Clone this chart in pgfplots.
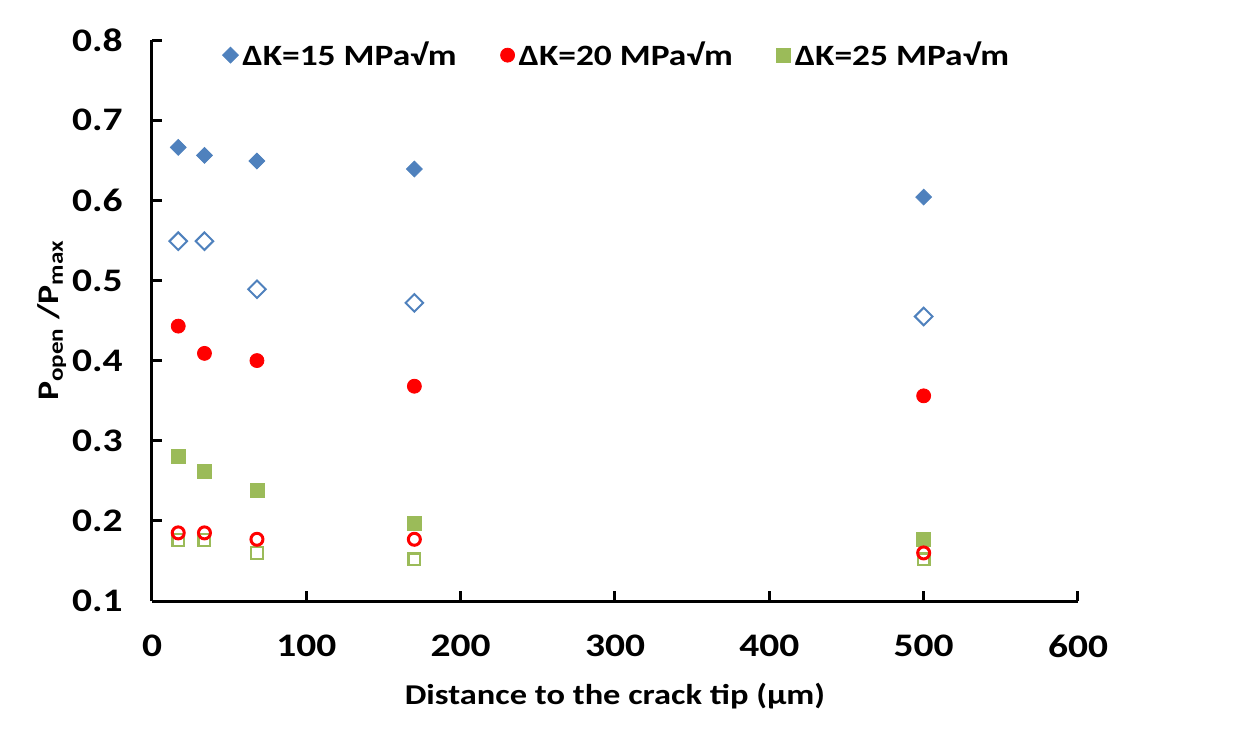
\documentclass[border=0pt]{standalone}
\usepackage{pgfplots}
\pgfplotsset{compat=1.18}
\usepackage{fontspec}
\setmainfont{Carlito}[FakeStretch=1.2]
\definecolor{cblue}{HTML}{4F81BD}
\definecolor{cred}{HTML}{FF0000}
\definecolor{cgreen}{HTML}{9BBB59}
\begin{document}
\begin{tikzpicture}
\path[use as bounding box] (-76bp,-69.5bp) rectangle (545bp,300.5bp);
\begin{axis}[
  scale only axis,
  width=463bp, height=280.5bp,
  xmin=0, xmax=600, ymin=0.1, ymax=0.8,
  xtick={0,100,...,600},
  ytick={0.1,0.2,...,0.8},
  axis x line=bottom, axis y line=left,
  axis line style={-, line width=1.5bp, black},
  tick style={line width=1.5bp, black},
  major tick length=5bp,
  tick align=inside,
  /pgf/number format/assume math mode=true,
  yticklabel style={/pgf/number format/fixed, /pgf/number format/fixed zerofill, /pgf/number format/precision=1},
  tick label style={font=\fontsize{16.5}{19}\selectfont\bfseries, inner sep=0pt},
  xticklabel style={anchor=center, yshift=-22.5bp},
  yticklabel style={anchor=east, xshift=-14.5bp},
  xlabel={Distance to the crack tip (µm)},
  ylabel={P\textsubscript{open} /P\textsubscript{max}},
  xlabel style={font=\fontsize{14.4}{17}\selectfont\bfseries, at={(axis description cs:0.5,-0.169)}, anchor=center},
  ylabel style={font=\fontsize{15}{17}\selectfont\bfseries, at={(axis description cs:-0.108,0.5)}, anchor=center},
  legend style={draw=none, fill=none, at={(0.503,0.973)}, anchor=center,
    font=\fontsize{14.8}{17}\selectfont\bfseries,
    /tikz/every even column/.append style={column sep=20bp}},
  legend columns=3,
  legend cell align=left,
]
\addplot[only marks, mark=square*, mark size=2.8bp, mark options={rotate=45, fill=cblue, draw=cblue}]
  coordinates {(17,0.666) (34,0.656) (68,0.649) (170,0.639) (500,0.604)};
\addlegendentry{ΔK=15 MPa√m}
\addplot[only marks, mark=*, mark size=3.5bp, mark options={fill=cred, draw=cred}]
  coordinates {(17,0.443) (34,0.409) (68,0.400) (170,0.368) (500,0.356)};
\addlegendentry{ΔK=20 MPa√m}
\addplot[only marks, mark=square*, mark size=3.5bp, mark options={fill=cgreen, draw=cgreen}]
  coordinates {(17,0.281) (34,0.262) (68,0.238) (170,0.197) (500,0.177)};
\addlegendentry{ΔK=25 MPa√m}
\addplot[forget plot, only marks, mark=square, mark size=3.1bp, mark options={rotate=45, draw=cblue, line width=1bp, fill=white}]
  coordinates {(17,0.549) (34,0.549) (68,0.489) (170,0.472) (500,0.455)};
\addplot[forget plot, only marks, mark=square, mark size=2.9bp, mark options={draw=cgreen, line width=1.2bp, fill=white}]
  coordinates {(17,0.176) (34,0.176) (68,0.160) (170,0.152) (500,0.152)};
\addplot[forget plot, only marks, mark=o, mark size=3bp, mark options={draw=cred, line width=1.5bp}]
  coordinates {(17,0.185) (34,0.185) (68,0.177) (170,0.177) (500,0.160)};
\end{axis}
\end{tikzpicture}
\end{document}
